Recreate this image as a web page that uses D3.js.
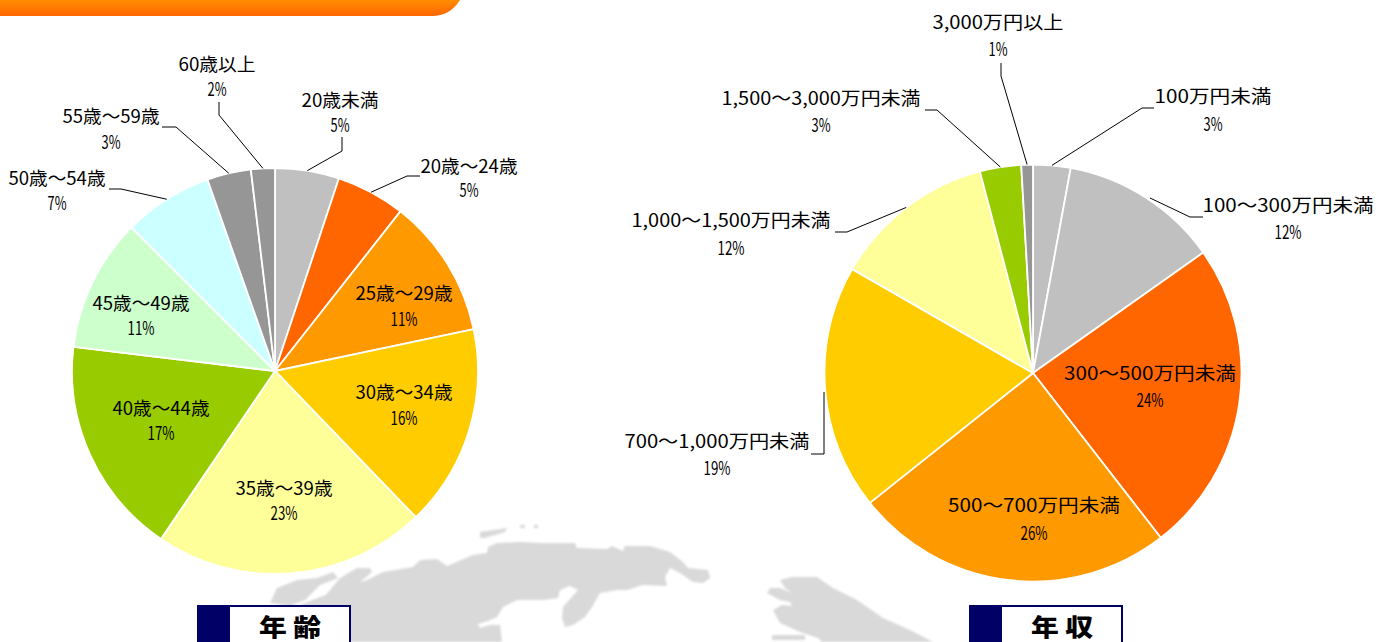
<!DOCTYPE html>
<html lang="ja"><head><meta charset="utf-8">
<style>
html,body{margin:0;padding:0;background:#fff;overflow:hidden}
svg{display:block}
text{font-family:"Noto Sans CJK JP","Noto Sans",sans-serif;fill:#000}
</style>
<script src="https://cdn.jsdelivr.net/npm/d3@7"></script>
</head><body>
<svg id="c" width="1389" height="642"></svg>
<script>
// ---- data ----
const ageCategories = ["20歳未満","20歳～24歳","25歳～29歳","30歳～34歳","35歳～39歳","40歳～44歳","45歳～49歳","50歳～54歳","55歳～59歳","60歳以上"];
const ageValues = [5.1,5.5,11.1,16.1,21.7,17.4,10.6,7.1,3.5,1.9];
const ageLabels = ["5%","5%","11%","16%","23%","17%","11%","7%","3%","2%"];
const ageColors = ["#c0c0c0","#ff6600","#ff9900","#ffcc00","#ffff99","#99cc00","#ccffcc","#ccffff","#969696","#969696"];
const incomeCategories = ["100万円未満","100～300万円未満","300～500万円未満","500～700万円未満","700～1,000万円未満","1,000～1,500万円未満","1,500～3,000万円未満","3,000万円以上"];
const incomeValues = [2.9,12.3,24.3,24.8,19.0,12.6,3.2,0.9];
const incomeLabels = ["3%","12%","24%","26%","19%","12%","3%","1%"];
const incomeColors = ["#c0c0c0","#c0c0c0","#ff6600","#ff9900","#ffcc00","#ffff99","#99cc00","#969696"];

// ---- layout: label centre x, name y, value y, name width, leader elbow points ----
const ageLayout = [
 {x:340,y:100,y2:125,w:77,lead:[[342,151],[342,137]]},
 {x:469,y:166,y2:190,w:97,lead:[[407,176],[420,176]]},
 {x:404,y:293,y2:319,w:97},
 {x:404,y:392,y2:418,w:97},
 {x:284,y:488,y2:513,w:97},
 {x:161,y:408,y2:433,w:97},
 {x:141,y:303,y2:328,w:97},
 {x:57,y:178,y2:203,w:97,lead:[[121,189],[109,189]]},
 {x:111,y:116,y2:142,w:97,lead:[[176,127],[162,127]]},
 {x:217,y:64,y2:89,w:77,lead:[[219,115],[219,102]]}
];
const incomeLayout = [
 {x:1213,y:96,y2:124,w:117,lead:[[1142,108],[1154,108]]},
 {x:1288,y:205,y2:232,w:171,lead:[[1190,217],[1203,217]],first:[1150,198]},
 {x:1150,y:373,y2:400,w:172},
 {x:1034,y:505,y2:533,w:172},
 {x:717,y:441,y2:468,w:185,lead:[[824,454],[811,454]],first:[824,392]},
 {x:731,y:220,y2:248,w:199,lead:[[847,232],[835,232]]},
 {x:821,y:98,y2:125,w:199,lead:[[937,110],[925,110]]},
 {x:998,y:22,y2:49,w:131,lead:[[1001,76],[1001,63]]}
];

const svg = d3.select("#c");
const defs = svg.append("defs");
const g = defs.append("linearGradient").attr("id","hdr").attr("x1",0).attr("x2",0).attr("y1",0).attr("y2",1);
g.append("stop").attr("offset",0).attr("stop-color","#ff8c00");
g.append("stop").attr("offset",1).attr("stop-color","#ff6600");
defs.append("filter").attr("id","soft").append("feGaussianBlur").attr("stdDeviation",0.8);

// header band
svg.append("path").attr("d","M0,0H460Q450,16 432,16H0Z").attr("fill","url(#hdr)");

// background map
const mapShapes = [
 "M270,603L277,588L297,580L317,578L333,572L338,578L320,585L305,600L290,606Z",
 "M340,578L357,568L370,568L372,572L357,585L345,596L325,606L318,604L330,590Z",
 "M480,532L507,528L505,532L485,538L480,538Z",
 "M520,525H525V528H520Z","M534,525H538V528H534Z",
 "M300,605L320,597L367,580L383,572L413,567L420,560L437,559L447,566L473,555L487,553L488,547L497,543L520,542L542,543L575,543L577,548L607,549L612,546L623,551L625,546L650,546L670,552L683,562L688,568L708,570L710,578L703,583L693,582L680,573L670,568L665,577L667,586L643,585L627,590L617,590L600,593L592,607L585,617L573,625L565,627L562,618L563,607L578,590L570,586L560,590L558,598L543,600L517,600L503,607L497,617L488,621L478,624L480,628L490,625L500,625L502,642L300,642Z",
 "M780,580L792,577L817,577L833,588L857,600L883,618L910,630L933,642L822,642L818,638L800,632L780,623L773,610L782,605L792,606L790,602L780,600L767,593L770,588L780,588L792,593L785,588Z",
 "M772,635H805V640H772Z"
];
svg.append("g").attr("filter","url(#soft)").selectAll("path").data(mapShapes).join("path").attr("d",d=>d).attr("fill","#d9d9d9");

function drawPie(cx,cy,r,cats,vals,labels,colors,layout){
  const arcs = d3.pie().sort(null).value(d=>d)(vals);
  const arc = d3.arc().innerRadius(0).outerRadius(r);
  const gp = svg.append("g");
  gp.append("g").attr("transform",`translate(${cx},${cy})`)
    .selectAll("path").data(arcs).join("path")
    .attr("d",arc).attr("fill",(d,i)=>colors[i]).attr("stroke","#fff").attr("stroke-width",1.8);
  const line = d3.line();
  arcs.forEach((a,i)=>{
    const L = layout[i];
    if(!L.lead) return;
    const m=(a.startAngle+a.endAngle)/2;
    const s=L.first||[cx+Math.sin(m)*r,cy-Math.cos(m)*r];
    gp.append("path").attr("d",line([s,...L.lead])).attr("fill","none").attr("stroke","#000").attr("stroke-width",1);
  });
  const tg = gp.append("g").attr("font-size",18).attr("text-anchor","middle");
  cats.forEach((c,i)=>{
    const L=layout[i];
    tg.append("text").attr("x",L.x).attr("y",L.y+6.5).text(c)
      .attr("textLength",L.w).attr("lengthAdjust","spacingAndGlyphs");
    tg.append("text").attr("x",L.x).attr("y",L.y2+6.5).attr("font-size",18).text(labels[i])
      .attr("textLength",labels[i].length>2?27:19).attr("lengthAdjust","spacingAndGlyphs");
  });
}
drawPie(275,371,203,ageCategories,ageValues,ageLabels,ageColors,ageLayout);
drawPie(1033,373,208.5,incomeCategories,incomeValues,incomeLabels,incomeColors,incomeLayout);

// title boxes
function titleBox(x,txt){
  svg.append("rect").attr("x",x+1).attr("y",606).attr("width",152).attr("height",40).attr("fill","#fff").attr("stroke","#000066").attr("stroke-width",2);
  svg.append("rect").attr("x",x).attr("y",605).attr("width",33).attr("height",37).attr("fill","#000066");
  svg.append("text").attr("x",x+93).attr("y",636).attr("text-anchor","middle").attr("font-size",24).attr("font-weight",900).text(txt)
    .attr("textLength",62).attr("lengthAdjust","spacingAndGlyphs");
}
titleBox(197,"年 齢");
titleBox(969,"年 収");
</script>
</body></html>
